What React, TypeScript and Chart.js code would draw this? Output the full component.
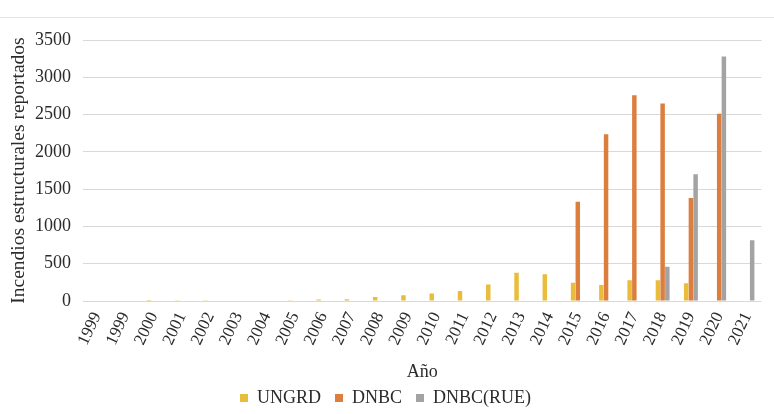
import React, { useEffect, useRef } from "react";
import { Chart, registerables } from "chart.js";

Chart.register(...registerables);

// Años (el primero aparece dos veces en la serie original)
const years = [
  "1999", "1999", "2000", "2001", "2002", "2003", "2004", "2005",
  "2006", "2007", "2008", "2009", "2010", "2011", "2012", "2013",
  "2014", "2015", "2016", "2017", "2018", "2019", "2020", "2021",
];

// Incendios estructurales reportados por fuente
const ungrd = [
  0, 0, 12, 10, 4, 8, 8, 10,
  20, 25, 52, 76, 100, 135, 220, 380,
  360, 245, 215, 278, 278, 238, null, null,
];
const dnbc = [
  null, null, null, null, null, null, null, null,
  null, null, null, null, null, null, null, null,
  null, 1330, 2235, 2760, 2650, 1380, 2510, null,
];
const dnbcRue = [
  null, null, null, null, null, null, null, null,
  null, null, null, null, null, null, null, null,
  null, null, null, null, 460, 1700, 3280, 815,
];

const yTicks = { min: 0, max: 3500, step: 500 };

const FONT = "'Liberation Serif', 'Times New Roman', serif";
const TEXT = "#2b2b2b";

const framePlugin = {
  id: "frame",
  beforeDraw(chart: any) {
    const { ctx, width, height } = chart;
    ctx.save();
    ctx.fillStyle = "#ffffff";
    ctx.fillRect(0, 0, width, height);
    ctx.strokeStyle = "#e2e2e2";
    ctx.lineWidth = 1;
    ctx.beginPath();
    ctx.moveTo(0, 17.5);
    ctx.lineTo(width, 17.5);
    ctx.stroke();
    ctx.restore();
  },
};

export default function App() {
  const canvasRef = useRef<HTMLCanvasElement | null>(null);

  useEffect(() => {
    if (!canvasRef.current) return;
    const chart = new Chart(canvasRef.current, {
      type: "bar",
      data: {
        labels: years,
        datasets: [
          { label: "UNGRD", data: ungrd, backgroundColor: "#E9BC3C" },
          { label: "DNBC", data: dnbc, backgroundColor: "#DB7E3E" },
          { label: "DNBC(RUE)", data: dnbcRue, backgroundColor: "#A3A3A3" },
        ],
      },
      options: {
        responsive: false,
        animation: false,
        events: [],
        layout: { padding: { top: 40, right: 3, left: 0, bottom: -3 } },
        datasets: {
          bar: { categoryPercentage: 0.5, barPercentage: 0.95 },
        },
        plugins: {
          legend: {
            position: "bottom",
            labels: {
              boxWidth: 8,
              boxHeight: 8,
              padding: 14,
              color: TEXT,
              font: { family: FONT, size: 18, lineHeight: 0.6 },
            },
          },
          tooltip: { enabled: false },
        },
        scales: {
          x: {
            grid: { display: false, drawTicks: false },
            border: { display: false },
            ticks: {
              color: TEXT,
              font: { family: FONT, size: 17 },
              minRotation: 65,
              maxRotation: 65,
              autoSkip: false,
              padding: 8,
            },
            title: {
              display: true,
              text: "Año",
              color: TEXT,
              font: { family: FONT, size: 18, lineHeight: 1 },
              padding: { top: 0, bottom: -6 },
            },
            afterFit(scale: any) {
              scale.height = 74;
            },
          },
          y: {
            min: yTicks.min,
            max: yTicks.max,
            grid: { color: "#d9d9d9", drawTicks: false },
            border: { display: false },
            ticks: {
              stepSize: yTicks.step,
              color: TEXT,
              font: { family: FONT, size: 18 },
              padding: 12,
              callback: (v: any) => String(v),
            },
            title: {
              display: true,
              text: "Incendios estructurales reportados",
              color: TEXT,
              font: { family: FONT, size: 19.5, lineHeight: 1 },
              padding: { top: 9, bottom: 0 },
            },
            afterFit(scale: any) {
              scale.width = 83;
            },
          },
        },
      },
      plugins: [framePlugin],
    });
    return () => chart.destroy();
  }, []);

  return (
    <div style={{ position: "fixed", left: 0, top: 0, width: 774, height: 414, background: "#fff" }}>
      <canvas ref={canvasRef} width={774} height={414} style={{ display: "block" }} />
    </div>
  );
}
